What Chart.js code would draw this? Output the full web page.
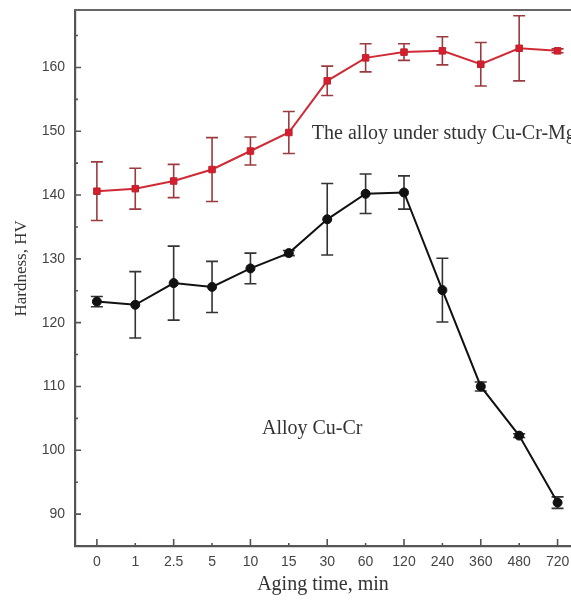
<!DOCTYPE html>
<html><head><meta charset="utf-8">
<script src="https://cdn.jsdelivr.net/npm/chart.js@4/dist/chart.umd.min.js"></script>
<style>html,body{margin:0;padding:0;background:#fff;overflow:hidden}#wrap{width:571px;height:600px;position:relative}</style>
</head><body><div id="wrap"><canvas id="c"></canvas></div>
<script>
// ---- data ----
const categories = ['0','1','2.5','5','10','15','30','60','120','240','360','480','720'];
const cuCrMg    = [140.6,141.0,142.2,144.0,146.9,149.8,157.9,161.5,162.4,162.6,160.5,163.0,162.6];
const cuCrMgErr = [4.6,3.2,2.6,5.0,2.2,3.3,2.3,2.2,1.3,2.2,3.4,5.1,0.3];
const cuCr      = [123.3,122.8,126.2,125.6,128.5,130.9,136.2,140.2,140.4,125.1,110.0,102.3,91.8];
const cuCrErr   = [0.8,5.2,5.8,4.0,2.4,0.4,5.6,3.1,2.6,5.0,0.7,0.3,0.9];
const yTicks    = [90,100,110,120,130,140,150,160];
const yMinor    = [95,105,115,125,135,145,155,165];
const seriesNames = ['The alloy under study Cu-Cr-Mg','Alloy Cu-Cr'];
const xTitle = 'Aging time, min';
const yTitle = 'Hardness, HV';

const toPts = arr => arr.map((v,i)=>({x:i,y:v}));
const serif = '"Liberation Serif", "Times New Roman", serif';

const decor = {
  id:'decor',
  beforeDatasetsDraw(chart){
    const {ctx, scales:{x,y}} = chart;
    ctx.save();
    chart.data.datasets.forEach(ds=>{
      ds.data.forEach((p,i)=>{
        const e = ds.errors[i];
        const px = x.getPixelForValue(p.x);
        const t = y.getPixelForValue(p.y+e), b = y.getPixelForValue(p.y-e);
        ctx.strokeStyle = ds.errColor; ctx.lineWidth = 1.6;
        ctx.beginPath();
        ctx.moveTo(px,t); ctx.lineTo(px,b);
        ctx.moveTo(px-6,t); ctx.lineTo(px+6,t);
        ctx.moveTo(px-6,b); ctx.lineTo(px+6,b);
        ctx.stroke();
      });
    });
    ctx.restore();
  },
  afterDraw(chart){
    const {ctx, scales:{x,y}, chartArea:a} = chart;
    ctx.save();
    ctx.strokeStyle = '#555'; ctx.lineWidth = 1.6;
    ctx.beginPath();
    yTicks.forEach(v=>{const py=y.getPixelForValue(v); ctx.moveTo(a.left,py); ctx.lineTo(a.left+6,py);});
    yMinor.forEach(v=>{const py=y.getPixelForValue(v); ctx.moveTo(a.left,py); ctx.lineTo(a.left+3,py);});
    categories.forEach((c,i)=>{const px=x.getPixelForValue(i); ctx.moveTo(px,a.bottom); ctx.lineTo(px,a.bottom-(i%2===0?7:3));});
    ctx.stroke();
    // top frame
    ctx.strokeStyle = '#666'; ctx.lineWidth = 2.2;
    ctx.beginPath(); ctx.moveTo(a.left-1,a.top); ctx.lineTo(chart.width,a.top); ctx.stroke();
    // series labels
    ctx.fillStyle = '#333';
    ctx.font = '20px ' + serif;
    ctx.textBaseline = 'middle'; ctx.textAlign = 'left';
    ctx.fillText(seriesNames[0], x.getPixelForValue(5.6), y.getPixelForValue(149.6));
    ctx.fillText(seriesNames[1], x.getPixelForValue(4.3), y.getPixelForValue(103.3));
    // y axis title
    ctx.save();
    ctx.translate(22, y.getPixelForValue(128.5));
    ctx.rotate(-Math.PI/2);
    ctx.textAlign = 'center';
    ctx.font = '17px ' + serif;
    ctx.fillText(yTitle, 0, 0);
    ctx.restore();
    ctx.restore();
  }
};

new Chart(document.getElementById('c'), {
  type:'line',
  data:{datasets:[
    {label:seriesNames[0], data:toPts(cuCrMg), errors:cuCrMgErr, errColor:'#9a3b3f',
     borderColor:'#cf2a36', borderWidth:2, pointStyle:'rect', pointRadius:4.6,
     pointBackgroundColor:'#d4202e', pointBorderColor:'#c0202c', pointBorderWidth:1, tension:0},
    {label:seriesNames[1], data:toPts(cuCr), errors:cuCrErr, errColor:'#333',
     borderColor:'#111', borderWidth:2, pointStyle:'circle', pointRadius:4.5,
     pointBackgroundColor:'#111', pointBorderColor:'#111', pointBorderWidth:1, tension:0}
  ]},
  options:{
    responsive:true, maintainAspectRatio:false, animation:false,
    layout:{autoPadding:false, padding:{top:10,right:0,left:0,bottom:0}},
    plugins:{legend:{display:false}, tooltip:{enabled:false}},
    scales:{
      x:{type:'linear', min:-0.57, max:12.35,
         afterBuildTicks:s=>{s.ticks=categories.map((c,i)=>({value:i}));},
         afterFit:s=>{s.height=54; s.paddingLeft=0; s.paddingRight=0;},
         grid:{display:false, drawTicks:false},
         border:{display:true, color:'#555', width:2.2},
         ticks:{autoSkip:false, maxRotation:0, padding:8, color:'#444',
                font:{family:'"Liberation Sans", Arial, sans-serif', size:14},
                callback:v=>categories[v]},
         title:{display:true, text:xTitle, color:'#333', padding:{top:0,bottom:3},
                font:{family:serif, size:20}}},
      y:{min:85, max:169,
         afterBuildTicks:s=>{s.ticks=yTicks.map(v=>({value:v}));},
         afterFit:s=>{s.width=75; s.paddingTop=0; s.paddingBottom=0;},
         grid:{display:false, drawTicks:false},
         border:{display:true, color:'#555', width:2.2},
         ticks:{padding:10, color:'#444',
                font:{family:'"Liberation Sans", Arial, sans-serif', size:14}},
         title:{display:false}}
    }
  },
  plugins:[decor]
});
</script></body></html>
